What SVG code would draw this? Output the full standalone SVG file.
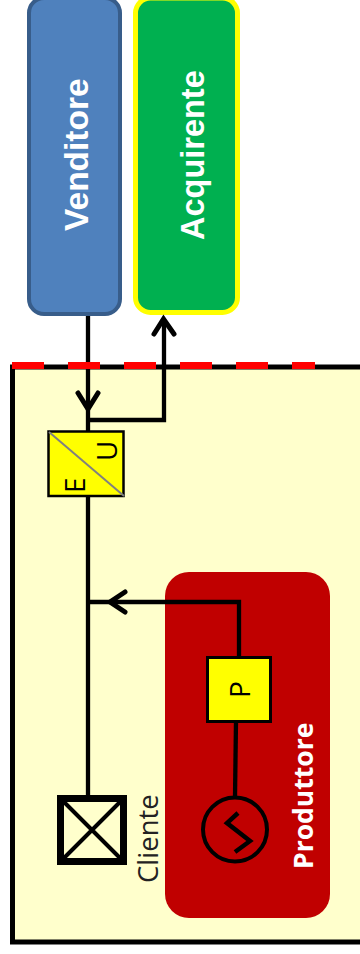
<svg xmlns="http://www.w3.org/2000/svg" width="360" height="954" viewBox="0 0 360 954">
<style>
.ln{fill:none;stroke:#000;stroke-width:4.300}
.ah{fill:none;stroke:#000;stroke-width:5;stroke-linecap:round;stroke-linejoin:miter}
.yb{fill:#ff0;stroke:#000}
.w{fill:#fff;font-weight:bold}
.sans{font-family:"Open Sans","Noto Sans",sans-serif}
.ar{font-family:"Liberation Sans",Arial,sans-serif}
</style>
<rect width="360" height="954" fill="#fff"/>
<g id="frame">
<rect x="12.500" y="367" width="350" height="575" fill="#ffffcc" stroke="#000" stroke-width="5"/>
</g>
<g id="produttore">
<rect x="165" y="572" width="165" height="346" rx="24" fill="#c00000"/>
<text class="sans w" transform="translate(313 869) rotate(-90)" font-size="26.500" fill="#fff">Produttore</text>
</g>
<g id="venditore">
<rect x="29" y="-2" width="91" height="316" rx="15" fill="#4f81bd" stroke="#385d8a" stroke-width="4"/>
<text class="ar w" transform="translate(88 231) rotate(-90)" font-size="33.500">Venditore</text>
</g>
<g id="acquirente">
<rect x="135.500" y="-2" width="102" height="314.500" rx="15" fill="#00b050" stroke="#ff0" stroke-width="5"/>
<text class="ar w" transform="translate(204 240) rotate(-90)" font-size="32.500">Acquirente</text>
</g>
<g id="connectors">
<path class="ln" d="M88 316V795"/>
<path class="ln" d="M88 420H164V320"/>
<path class="ln" d="M88 602H239V657"/>
<path class="ln" d="M236 721L235 797"/>
<path class="ah" d="M78 393L88 409L98 393"/>
<path class="ah" d="M154 334L163.500 319L174 334"/>
<path class="ah" d="M125 592L110 602L125 612"/>
</g>
<g id="confine">
<path d="M12 365.500H315" fill="none" stroke="#f00" stroke-width="7" stroke-dasharray="32 24"/>
</g>
<g id="eu">
<rect class="yb" x="48.500" y="431.500" width="75" height="64.500" stroke-width="2.500"/>
<path d="M49 432L124 496" stroke="#808080" stroke-width="2" fill="none"/>
<text class="sans" transform="translate(117 461) rotate(-90)" font-size="28">U</text>
<text class="sans" transform="translate(85 493) rotate(-90)" font-size="28">E</text>
</g>
<g id="p">
<rect class="yb" x="207.500" y="657.500" width="63" height="64" stroke-width="3"/>
<text class="sans" transform="translate(250 698) rotate(-90)" font-size="28">P</text>
</g>
<g id="generatore">
<circle cx="235" cy="829.500" r="32" fill="none" stroke="#000" stroke-width="4"/>
<path d="M238 813L227 823L250 841L235 852" fill="none" stroke="#000" stroke-width="4.500"/>
</g>
<g id="cliente">
<rect x="60.500" y="798.500" width="63" height="63" fill="#ffffcc" stroke="#000" stroke-width="7"/>
<path d="M61 799L123 861M123 799L61 861" stroke="#000" stroke-width="4" fill="none"/>
<text class="sans" transform="translate(158 883) rotate(-90)" font-size="27.500" fill="#222">Cliente</text>
</g>
</svg>
